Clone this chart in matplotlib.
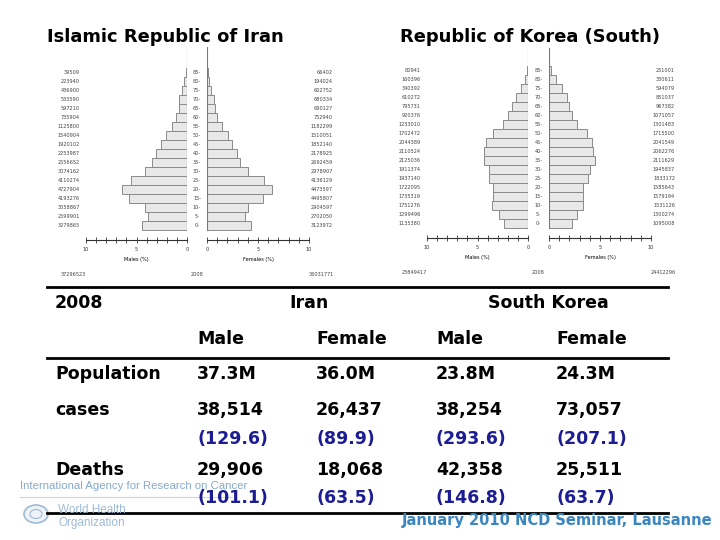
import matplotlib

matplotlib.use("Agg")
import matplotlib.pyplot as plt
from matplotlib.patches import Circle

W, H = 720, 540

ages = ["0-", "5-", "10-", "15-", "20-", "25-", "30-", "35-", "40-",
        "45-", "50-", "55-", "60-", "65-", "70-", "75-", "80-", "85-"]

# percent of total population, bottom (0-) to top (85-)
iran_male = [4.44, 3.85, 4.14, 5.72, 6.45, 5.56, 4.14, 3.45, 3.06,
             2.60, 2.07, 1.48, 1.09, 0.79, 0.79, 0.49, 0.30, 0.13]
iran_female = [4.28, 3.68, 3.98, 5.46, 6.35, 5.63, 3.98, 3.26, 2.96,
               2.50, 2.10, 1.51, 1.02, 0.82, 0.69, 0.43, 0.23, 0.10]
korea_male = [2.35, 2.85, 3.54, 3.44, 3.44, 3.84, 3.84, 4.34, 4.34,
              4.14, 3.44, 2.48, 1.95, 1.56, 1.16, 0.66, 0.26, 0.07]
korea_female = [2.22, 2.72, 3.31, 3.31, 3.31, 3.80, 4.00, 4.47, 4.30,
                4.20, 3.71, 2.72, 2.22, 1.99, 1.75, 1.23, 0.73, 0.20]

iran_male_counts = ["3279865", "2599901", "3058867", "4193276", "4727904", "4110274",
                    "3074162", "2556652", "2253987", "1920102", "1540904", "1125800",
                    "735904", "597210", "533590", "436900", "223940", "39509"]
iran_female_counts = ["3123972", "2702050", "2904597", "4495807", "4473597", "4136129",
                      "2978907", "2692459", "2178925", "1852140", "1510051", "1182299",
                      "752940", "690127", "680334", "602752", "194024", "66402"]
korea_male_counts = ["1135380", "1299496", "1751276", "1735319", "1722095", "1937140",
                     "1911374", "2125036", "2110524", "2044389", "1702472", "1233010",
                     "920376", "795731", "610272", "340392", "160396", "80941"]
korea_female_counts = ["1095008", "1300274", "1531126", "1579194", "1585643", "1833172",
                       "1945837", "2111629", "2062276", "2041549", "1715500", "1301483",
                       "1071057", "967382", "851037", "594079", "330611", "251001"]

# table
countries = ["Iran", "South Korea"]
sexes = ["Male", "Female", "Male", "Female"]
row_labels = ["Population", "cases", "Deaths"]
population = ["37.3M", "36.0M", "23.8M", "24.3M"]
cases = ["38,514", "26,437", "38,254", "73,057"]
cases_rate = ["(129.6)", "(89.9)", "(293.6)", "(207.1)"]
deaths = ["29,906", "18,068", "42,358", "25,511"]
deaths_rate = ["(101.1)", "(63.5)", "(146.8)", "(63.7)"]

fig = plt.figure(figsize=(7.2, 5.4), dpi=100)
fig.patch.set_facecolor("white")


def fx(px):
    return px / W


def fy(py):
    return 1 - py / H


def add_ax(x0, x1, y_top, y_bot):
    return fig.add_axes([fx(x0), fy(y_bot), fx(x1) - fx(x0), (y_bot - y_top) / H])


BAR_FC = "#e8e8e8"
BAR_EC = "#8a8a8a"
SMALL = 3.6
NARROW = ["Liberation Sans Narrow", "Liberation Sans", "DejaVu Sans"]


def pyramid(xm0, xm1, xf0, xf1, y_top, y_axis, row_bottom, row_top, male, female,
            mcounts, fcounts, totals):
    ypx = (row_bottom - row_top) / len(ages)
    lo = -0.5 - (y_axis - row_bottom) / ypx
    hi = len(ages) - 0.5 + (row_top - y_top) / ypx
    pos = list(range(len(ages)))
    axm = add_ax(xm0, xm1, y_top, y_axis)
    axf = add_ax(xf0, xf1, y_top, y_axis)
    for ax, vals in ((axm, male), (axf, female)):
        ax.barh(pos, vals, height=1.0, color=BAR_FC, edgecolor=BAR_EC, linewidth=0.7)
        ax.set_ylim(lo, hi)
        ax.plot([0, 0], [-0.5, hi], color="#777777", lw=0.8)
        for s in ("left", "right", "top"):
            ax.spines[s].set_visible(False)
        ax.spines["bottom"].set_color("#333333")
        ax.spines["bottom"].set_linewidth(0.8)
        ax.set_yticks([])
        ax.set_xticks([0, 5, 10])
        ax.set_xticks(range(11), minor=True)
        ax.tick_params(axis="x", which="both", direction="inout", length=4,
                       width=0.6, labelsize=SMALL, pad=3, colors="#333333")
        ax.set_facecolor("none")
    axm.set_xlim(10, 0)
    axf.set_xlim(0, 10)
    axm.set_xlabel("Males (%)", fontsize=SMALL, labelpad=4)
    axf.set_xlabel("Females (%)", fontsize=SMALL, labelpad=4)
    wm = xm1 - xm0
    wf = xf1 - xf0
    tm = axm.get_yaxis_transform()
    tf = axf.get_yaxis_transform()
    for i in pos:
        axm.text(-0.06, i, mcounts[i], transform=tm, ha="right", va="center",
                 fontsize=SMALL, color="#444444")
        axm.text(1 + ((xf0 - xm1) / 2) / wm, i, ages[i], transform=tm, ha="center",
                 va="center", fontsize=SMALL, color="#444444")
        axf.text(1 + 24 / wf, i, fcounts[i], transform=tf, ha="right", va="center",
                 fontsize=SMALL, color="#444444")
    fig.text(fx(xm0 - 25), fy(y_axis + 34), totals[0], fontsize=SMALL, va="center",
             color="#444444")
    fig.text(fx((xm1 + xf0) / 2), fy(y_axis + 34), totals[1], fontsize=SMALL,
             ha="center", va="center", color="#444444")
    fig.text(fx(xf1 + 25), fy(y_axis + 34), totals[2], fontsize=SMALL, ha="right",
             va="center", color="#444444")


pyramid(86, 187, 207, 309, 47, 240, 230, 68, iran_male, iran_female,
        iran_male_counts, iran_female_counts, ["37296523", "2008", "36031771"])
pyramid(427, 528, 549, 651, 48, 238, 228, 66, korea_male, korea_female,
        korea_male_counts, korea_female_counts, ["23849417", "2008", "24412296"])

fig.text(fx(47), fy(37), "Islamic Republic of Iran", fontsize=12.9, weight="bold",
         va="center")
fig.text(fx(400), fy(37), "Republic of Korea (South)", fontsize=12.9, weight="bold",
         va="center")

# table
FS = 12.5
BLUE = "#1c1c94"
cols = [197, 316, 436, 556]
for y in (287, 358, 513):
    fig.add_artist(plt.Line2D([fx(47), fx(668)], [fy(y), fy(y)], color="black", lw=2))
fig.text(fx(55), fy(303), "2008", fontsize=FS, weight="bold", va="center")
fig.text(fx(309), fy(303), countries[0], fontsize=FS, weight="bold", va="center",
         ha="center")
fig.text(fx(548), fy(303), countries[1], fontsize=FS, weight="bold", va="center",
         ha="center")
for x, s in zip(cols, sexes):
    fig.text(fx(x), fy(339), s, fontsize=FS, weight="bold", va="center")
for label, y in zip(row_labels, (374, 410, 470)):
    fig.text(fx(55), fy(y), label, fontsize=FS, weight="bold", va="center")
rows = [(population, 374, "black"), (cases, 410, "black"), (cases_rate, 439, BLUE),
        (deaths, 470, "black"), (deaths_rate, 498, BLUE)]
for vals, y, c in rows:
    for x, v in zip(cols, vals):
        fig.text(fx(x), fy(y), v, fontsize=FS, weight="bold", va="center", color=c)

# footer / logos (the IARC line sits under the table in the original slide)
fig.text(fx(20), fy(486), "International Agency for Research on Cancer", fontsize=8.2,
         family=NARROW, color="#86a9cc", va="center")
fig.add_artist(plt.Line2D([fx(20), fx(232)], [fy(497), fy(497)], color="#c8d4e0", lw=0.8))
fig.add_artist(Circle((fx(36), fy(514)), 12 / W, transform=fig.transFigure,
                      facecolor="#eef3f9", edgecolor="#9fbad6", lw=1.2))
fig.add_artist(Circle((fx(36), fy(514)), 6 / W, transform=fig.transFigure,
                      facecolor="none", edgecolor="#9fbad6", lw=0.8))
fig.text(fx(58), fy(510), "World Health", fontsize=8.5, family=NARROW,
         color="#9fbad6", va="center")
fig.text(fx(58), fy(523), "Organization", fontsize=8.5, family=NARROW,
         color="#9fbad6", va="center")
fig.text(fx(712), fy(520), "January 2010 NCD Seminar, Lausanne", fontsize=10.5,
         weight="bold", color="#3a86c0", va="center", ha="right")

fig.savefig("out.png", dpi=100)
